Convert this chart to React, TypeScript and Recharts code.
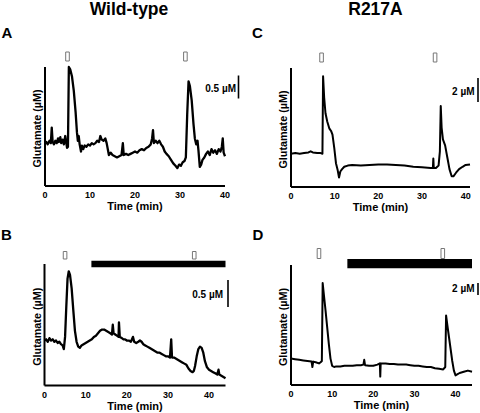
import React from 'react';
import { LineChart, Line, XAxis, YAxis, ReferenceArea } from 'recharts';

const FONT = '"Liberation Sans", Arial, Helvetica, sans-serif';

// ---------- Panel A : Wild-type ----------
const timeA = [0, 0.3, 0.6, 1.0, 1.3, 1.5, 1.7, 2.0, 2.3, 2.6, 2.9, 3.1, 3.4, 3.6, 3.9, 4.2, 4.5, 4.7, 4.9, 5.1,
  5.3, 5.6, 6.0, 6.4, 6.8, 7.1, 7.3, 7.5, 7.7, 8.0, 8.2, 8.5, 8.8, 9.2, 9.6, 10, 10.4, 10.8, 11.2, 11.6,
  12.0, 12.3, 12.6, 13.0, 13.4, 13.7, 14.0, 14.2, 14.6, 15.0, 15.5, 16.0, 16.5, 17.0, 17.3, 17.5, 18, 18.5, 19, 19.5,
  20, 20.5, 21, 21.5, 22, 22.5, 23, 23.5, 23.8, 24.0, 24.2, 24.6, 25, 25.4, 25.8, 26.2, 26.6, 27, 27.5, 28,
  28.5, 29, 29.4, 29.8, 30.2, 30.6, 31.0, 31.3, 31.6, 31.9, 32.2, 32.6, 33.0, 33.3, 33.6, 33.9, 34.1, 34.4, 34.7, 35.0,
  35.4, 35.8, 36.2, 36.6, 37.0, 37.4, 37.8, 38.2, 38.6, 39.0, 39.3, 39.5, 39.7, 40];
const glutA = [36, 37, 35, 38, 36, 49, 37, 35, 38, 36, 40, 37, 41, 36, 39, 35, 42, 37, 32, 33,
  100, 98, 92, 80, 62, 45, 38, 42, 35, 29, 34, 31, 34, 33, 35, 34, 36, 35, 36, 38,
  37, 42, 39, 38, 40, 36, 30, 26, 28, 26, 25, 24, 25, 26, 36, 26, 27, 26, 27, 28,
  29, 28, 30, 31, 30, 32, 33, 35, 40, 47, 36, 38, 36, 38, 35, 33, 29, 27, 25, 22,
  19, 17, 15, 18, 17, 20, 21, 24, 60, 88, 84, 72, 52, 40, 35, 38, 30, 16, 18, 22,
  24, 27, 29, 26, 31, 28, 30, 27, 31, 29, 33, 40, 28, 25];
const stimA = [5.0, 31.2];

// ---------- Panel B : Wild-type + drug ----------
const timeB = [0, 0.4, 0.8, 1.2, 1.6, 2.0, 2.4, 2.8, 3.2, 3.6, 4.0, 4.4, 4.7, 5.0, 5.3, 5.6, 5.9, 6.2, 6.6, 7.0,
  7.4, 7.8, 8.2, 8.6, 9, 9.5, 10, 10.5, 11, 11.5, 12, 12.5, 13, 13.5, 14, 14.5, 15, 15.5, 16, 16.4,
  16.6, 16.8, 17.2, 17.6, 18.0, 18.1, 18.3, 18.8, 19.2, 19.6, 20, 20.5, 21, 21.5, 21.8, 22.3, 22.8, 23.2, 23.6, 24,
  24.5, 25, 25.5, 26, 26.5, 27, 27.5, 28, 28.5, 29, 29.5, 30, 30.5, 30.8, 31, 31.5, 32, 32.5, 33, 33.5,
  34, 34.5, 35, 35.5, 36, 36.3, 36.6, 37.0, 37.4, 37.8, 38.2, 38.6, 39, 39.5, 40, 40.5, 41, 41.5, 42, 42.3,
  42.5, 43, 43.5, 44];
const glutB = [37, 38, 36, 39, 37, 38, 36, 37, 35, 36, 34, 33, 30, 40, 65, 88, 94, 91, 80, 62,
  45, 36, 32, 31, 33, 34, 35, 36, 37, 38, 40, 41, 43, 45, 46, 46, 45, 44, 43, 42,
  50, 43, 42, 41, 40, 52, 40, 39, 38, 38, 37, 37, 36, 40, 36, 35, 36, 37, 36, 34,
  33, 32, 31, 30, 29, 28, 27, 27, 26, 25, 24, 24, 23, 38, 23, 23, 22, 21, 20, 19,
  18, 17, 14, 12, 11, 12, 16, 24, 30, 32, 31, 27, 20, 15, 13, 12, 11, 10, 9, 13,
  9, 8, 7, 6];
const stimB = [5.0, 36.4];
const drugB: [number, number] = [11.4, 44];

// ---------- Panel C : R217A ----------
const timeC = [0, 1, 2, 3, 4, 4.5, 5, 6, 6.8, 7.2, 7.35, 7.6, 7.9, 8.3, 8.8, 9.2, 9.5, 9.9, 10.3, 10.7,
  11.0, 11.3, 11.7, 12.2, 13, 14, 16, 18, 20, 22, 24, 26, 28, 30, 32, 32.5, 32.6, 32.7, 33.2, 33.8,
  34.1, 34.3, 34.5, 34.8, 35.3, 35.8, 36.3, 36.8, 37.2, 37.8, 38.5, 39.3, 40, 41];
const glutC = [28, 28.5, 28, 28.5, 29, 30, 29, 28.5, 28.5, 28, 93, 75, 62, 55, 49, 47, 44, 33, 20, 14,
  8, 13, 15, 17, 18, 18.5, 18, 18.5, 19, 19, 18.5, 18, 17, 16.5, 16, 16, 24, 16, 16, 18,
  30, 68, 50, 40, 35, 25, 15, 9, 9, 12, 15, 17, 18.5, 19];
const stimC = [7.0, 33.0];

// ---------- Panel D : R217A + drug ----------
const timeD = [0, 1, 2, 3, 4, 5, 5.2, 5.4, 6, 6.8, 7.2, 7.5, 7.7, 8.0, 8.4, 8.8, 9.2, 9.6, 10, 10.5,
  11, 12, 13, 14, 15, 16, 17, 17.6, 17.8, 18, 19, 20, 21, 21.6, 21.7, 21.8, 22, 23, 24, 25,
  26, 27, 28, 29, 30, 31, 32, 33, 34, 35, 36, 37, 37.5, 37.7, 38.0, 38.4, 38.8, 39.2, 39.6, 40.0,
  40.5, 41, 42, 43, 44];
const glutD = [22, 21.5, 21, 20.5, 20, 19.5, 15, 19.5, 19, 18, 19, 20, 85, 75, 62, 48, 34, 22, 16, 15,
  15.5, 15.5, 16, 16, 16, 16.5, 16.5, 17, 21, 16.5, 16, 16, 17, 18, 7, 18, 18, 18, 17.5, 17.5,
  17, 17, 17, 16.5, 16, 16, 15.5, 15, 15, 14, 13.5, 13, 15, 58, 50, 40, 30, 20, 12, 8,
  9, 10, 11, 12, 11];
const stimD = [6.8, 36.9];
const drugD: [number, number] = [13.7, 44];

const ticks = [0, 10, 20, 30, 40];

const toRows = (t: number[], v: number[]) => t.map((x, i) => ({ t: x, v: v[i] }));

type Box = { left: number; right: number; top: number; bottom: number };

type PanelProps = {
  rows: { t: number; v: number }[];
  xMax: number;
  plot: Box;
  stim: number[];
  stimPx: [number, number];
  drug?: [number, number];
  drugPx?: [number, number];
  lineW: number;
};

const Y_W = 10;
const X_H = 30;

function Panel({ rows, xMax, plot, stim, stimPx, drug, drugPx, lineW }: PanelProps) {
  const ph = plot.bottom - plot.top;
  const pw = plot.right - plot.left;
  const up = (px: number) => 100 + (px * 100) / ph;
  const minW = (3.6 * xMax) / pw;
  const cy = (plot.top + plot.bottom) / 2 + 2;
  const yLabel = () => (
    <text
      x={plot.left - 4}
      y={cy}
      transform={`rotate(-90, ${plot.left - 4}, ${cy})`}
      textAnchor="middle"
      fontFamily={FONT}
      fontWeight="bold"
      fontSize={10.8}
      fill="#000"
    >
      Glutamate (µM)
    </text>
  );
  const xLabel = () => (
    <text
      x={(plot.left + plot.right) / 2}
      y={plot.bottom + 24}
      textAnchor="middle"
      fontFamily={FONT}
      fontWeight="bold"
      fontSize={11}
      fill="#000"
    >
      Time (min)
    </text>
  );
  return (
    <div style={{ position: 'absolute', left: 0, top: 0 }}>
      <LineChart
        width={480}
        height={413}
        data={rows}
        margin={{
          top: plot.top,
          left: plot.left - Y_W,
          right: 480 - plot.right,
          bottom: 413 - plot.bottom - X_H,
        }}
      >
        <XAxis
          type="number"
          dataKey="t"
          domain={[0, xMax]}
          ticks={ticks}
          interval={0}
          tickLine={false}
          tickSize={4}
          tickMargin={2}
          height={X_H}
          axisLine={{ stroke: '#000', strokeWidth: 2 }}
          tick={{ fill: '#000', fontSize: 9, fontWeight: 'bold', fontFamily: FONT }}
          label={{ content: xLabel }}
        />
        <YAxis
          type="number"
          domain={[0, 100]}
          width={Y_W}
          tick={false}
          tickLine={false}
          axisLine={{ stroke: '#000', strokeWidth: 2 }}
          label={{ content: yLabel }}
        />
        {drug && drugPx && (
          <ReferenceArea
            x1={drug[0]}
            x2={drug[1]}
            y1={up(drugPx[1])}
            y2={up(drugPx[0])}
            ifOverflow="visible"
            fill="#000"
            fillOpacity={1}
            stroke="none"
          />
        )}
        {stim.map((s, i) => (
          <ReferenceArea
            key={i}
            x1={s - minW / 2}
            x2={s + minW / 2}
            y1={up(stimPx[1])}
            y2={up(stimPx[0])}
            ifOverflow="visible"
            fill="#fff"
            fillOpacity={1}
            stroke="#777"
            strokeWidth={1}
          />
        ))}
        <Line
          type="linear"
          dataKey="v"
          stroke="#000"
          strokeWidth={lineW}
          dot={false}
          activeDot={false}
          strokeLinejoin="round"
          isAnimationActive={false}
        />
      </LineChart>
    </div>
  );
}

const txt = { fontFamily: FONT, fontWeight: 'bold' as const, fill: '#000' };

export default function App() {
  return (
    <div style={{ position: 'fixed', left: 0, top: 0, width: 480, height: 413, background: '#fff' }}>
      <Panel
        rows={toRows(timeA, glutA)}
        xMax={40}
        plot={{ left: 45, right: 225, top: 67, bottom: 186 }}
        stim={stimA}
        stimPx={[15, 6]}
        lineW={2.3}
      />
      <Panel
        rows={toRows(timeC, glutC)}
        xMax={41}
        plot={{ left: 291, right: 470, top: 68, bottom: 187 }}
        stim={stimC}
        stimPx={[15, 6]}
        lineW={2}
      />
      <Panel
        rows={toRows(timeB, glutB)}
        xMax={44}
        plot={{ left: 44.5, right: 225.5, top: 264, bottom: 385.5 }}
        stim={stimB}
        stimPx={[12.5, 5]}
        drug={drugB}
        drugPx={[3.3, -3.3]}
        lineW={2.3}
      />
      <Panel
        rows={toRows(timeD, glutD)}
        xMax={44}
        plot={{ left: 291, right: 472, top: 265, bottom: 385 }}
        stim={stimD}
        stimPx={[16.5, 6.5]}
        drug={drugD}
        drugPx={[6, -3.3]}
        lineW={2}
      />
      <svg width={480} height={413} style={{ position: 'absolute', left: 0, top: 0, pointerEvents: 'none' }}>
        <text x={129} y={14.5} textAnchor="middle" fontSize={17.5} {...txt}>Wild-type</text>
        <text x={375.5} y={14.5} textAnchor="middle" fontSize={17.5} {...txt}>R217A</text>
        <text x={1.5} y={37.5} fontSize={15} {...txt}>A</text>
        <text x={252} y={37.5} fontSize={15} {...txt}>C</text>
        <text x={1} y={240} fontSize={15} {...txt}>B</text>
        <text x={252.5} y={240} fontSize={15} {...txt}>D</text>
        <line x1={238.5} x2={238.5} y1={75.5} y2={98.5} stroke="#000" strokeWidth={1.6} />
        <text x={236} y={91.5} textAnchor="end" fontSize={10} {...txt}>0.5 µM</text>
        <line x1={478} x2={478} y1={78} y2={102} stroke="#000" strokeWidth={1.6} />
        <text x={474.5} y={94.5} textAnchor="end" fontSize={10} {...txt}>2 µM</text>
        <line x1={228} x2={228} y1={280} y2={307} stroke="#000" strokeWidth={1.6} />
        <text x={223} y={298} textAnchor="end" fontSize={10} {...txt}>0.5 µM</text>
        <line x1={478} x2={478} y1={283} y2={295} stroke="#000" strokeWidth={1.6} />
        <text x={474.5} y={292} textAnchor="end" fontSize={10} {...txt}>2 µM</text>
      </svg>
    </div>
  );
}
